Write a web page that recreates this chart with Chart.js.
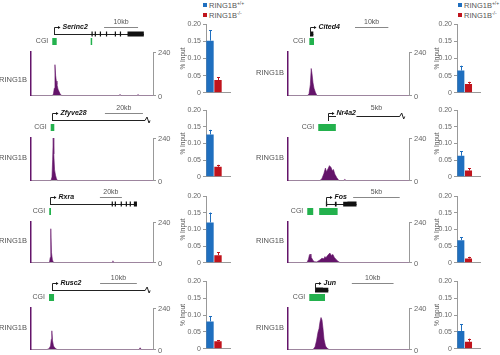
<!DOCTYPE html>
<html><head><meta charset="utf-8">
<script src="https://cdn.jsdelivr.net/npm/chart.js@4.4.1/dist/chart.umd.min.js"></script>
<style>
html,body{margin:0;padding:0;background:#fff}
#fig{position:relative;width:500px;height:355px;overflow:hidden;background:#fff;font-family:"Liberation Sans",Arial,sans-serif}
#fig canvas{position:absolute}
.legend{position:absolute;font-size:7.5px;line-height:9.5px;color:#555;white-space:nowrap}
.legend .sw{display:inline-block;width:4px;height:4px;margin-right:2px;vertical-align:1px}
.legend sup{font-size:5px;vertical-align:3px;line-height:0}
</style></head><body>
<div id="fig">
  <div class="legend" style="left:203px;top:1px">
    <div><span class="sw" style="background:#1f6fbf"></span>RING1B<sup>+/+</sup></div>
    <div><span class="sw" style="background:#c0141d"></span>RING1B<sup>-/-</sup></div>
  </div>
  <div class="legend" style="left:458px;top:1px">
    <div><span class="sw" style="background:#1f6fbf"></span>RING1B<sup>+/+</sup></div>
    <div><span class="sw" style="background:#c0141d"></span>RING1B<sup>-/-</sup></div>
  </div>
</div>
<script>
// ---------------- DATA ----------------
const genes = ['Serinc2','Zfyve28','Rxra','Rusc2','Cited4','Nr4a2','Fos','Jun'];
const seriesLabels = ['RING1B+/+','RING1B-/-'];
const wtInput = [0.152, 0.127, 0.121, 0.081, 0.065, 0.063, 0.068, 0.053];
const wtErr   = [0.030, 0.014, 0.030, 0.016, 0.014, 0.013, 0.009, 0.019];
const koInput = [0.037, 0.030, 0.023, 0.022, 0.026, 0.019, 0.013, 0.021];
const koErr   = [0.009, 0.006, 0.009, 0.004, 0.006, 0.006, 0.005, 0.009];
const inputTicks  = [0, 0.05, 0.1, 0.15, 0.2];
const signalTicks = [0, 240];

const scaleLabels = ['10kb','20kb','20kb','10kb','10kb','5kb','5kb','10kb'];
const regionKb    = [35.9, 64.2, 111, 33.2, 36.3, 13.0, 13.0, 29.0];
const tssKb       = [6.76, 11.05, 17.3, 5.64, 6.6, 4.32, 4.07, 6.47];
const geneEndKb   = [33.2, 60.0, 96.4, 31.06, 7.6, 12.0, 7.36, 9.66];
const geneBroken  = [false, true, false, true, false, true, false, false];
const scaleBarKb  = [[21.5,31.5],[38.9,58.9],[62.7,82.7],[18.8,28.8],[20.1,30.1],[7.0,12.0],[7.0,12.0],[15.3,25.3]];

const serinc2Kb     = [0, 6.3, 6.6, 6.85, 7.05, 7.25, 7.45, 7.65, 7.95, 8.25, 8.55, 9.0, 25.9, 26.2, 26.5, 31.2, 31.5, 31.8, 35.9];
const serinc2Signal = [0, 0, 8, 40, 170, 110, 80, 60, 35, 22, 10, 0, 0, 6, 0, 0, 5, 0, 0];
const serinc2Exons  = [[17.8,17.95],[18.75,18.9],[20.25,20.4],[22.05,22.2],[24.65,24.8],[26.15,26.3],[28.4,33.2]];
const serinc2Cgi    = [[6.26,7.56],[17.56,17.94]];

const zfyve28Kb     = [0, 10.5, 11.05, 11.4, 11.7, 12.0, 12.4, 12.9, 13.4, 13.95, 64.2];
const zfyve28Signal = [0, 0, 20, 120, 240, 150, 60, 30, 10, 0, 0];
const zfyve28Exons  = [];
const zfyve28Cgi    = [[10.37,12.26]];

const rxraKb     = [0, 16.8, 17.5, 18.0, 18.6, 19.5, 20.5, 74.0, 74.5, 75.0, 111];
const rxraSignal = [0, 0, 30, 200, 60, 15, 0, 0, 10, 0, 0];
const rxraExons  = [[73.4,73.8],[76.2,76.6],[81.6,82.0],[86.2,86.6],[89.8,90.2],[93.6,96.4]];
const rxraCgi    = [[16.6,18.2]];

const rusc2Kb     = [0, 4.36, 4.9, 5.31, 5.53, 5.67, 5.86, 6.13, 6.54, 7.08, 29.4, 29.7, 30.0, 33.2];
const rusc2Signal = [0, 0, 5, 20, 60, 108, 50, 20, 8, 0, 0, 10, 0, 0];
const rusc2Exons  = [];
const rusc2Cgi    = [[4.9,6.27]];

const cited4Kb     = [0, 5.86, 6.31, 6.7, 6.97, 7.2, 7.5, 7.8, 8.26, 8.7, 36.3];
const cited4Signal = [0, 0, 10, 60, 149, 120, 70, 40, 15, 0, 0];
const cited4Exons  = [[6.6,7.6]];
const cited4Cgi    = [[6.4,7.8]];

const nr4a2Kb     = [0, 3.43, 3.64, 3.86, 4.02, 4.13, 4.29, 4.45, 4.61, 4.77, 4.88, 5.04, 5.25, 5.47, 5.95, 6.1, 6.25, 13.0];
const nr4a2Signal = [0, 0, 10, 40, 70, 50, 65, 84, 75, 55, 62, 35, 15, 0, 0, 6, 0, 0];
const nr4a2Exons  = [];
const nr4a2Cgi    = [[3.25,5.14]];

const fosKb     = [0, 2.04, 2.2, 2.3, 2.39, 2.47, 2.57, 2.68, 2.84, 3.05, 3.22, 3.43, 3.64, 3.86, 3.97, 4.07, 4.23, 4.39, 4.5, 4.66, 4.82, 4.98, 5.14, 5.36, 5.57, 13.0];
const fosSignal = [0, 0, 20, 45, 50, 30, 25, 12, 5, 3, 8, 15, 25, 22, 35, 28, 40, 50, 56, 42, 48, 30, 20, 8, 0, 0];
const fosExons  = [[4.07,4.21],[5.04,5.22],[5.93,7.36]];
const fosCgi    = [[2.07,2.71],[3.35,5.33]];

const junKb     = [0, 6.0, 6.47, 6.83, 7.19, 7.43, 7.67, 7.91, 8.15, 8.39, 8.63, 8.99, 9.35, 9.83, 29.0];
const junSignal = [0, 0, 15, 50, 100, 120, 160, 185, 170, 120, 60, 20, 8, 0, 0];
const junExons  = [[6.47,9.66]];
const junCgi    = [[5.1,8.87]];

// ---------------- BUILD ----------------
const signalKb = [serinc2Kb, zfyve28Kb, rxraKb, rusc2Kb, cited4Kb, nr4a2Kb, fosKb, junKb];
const signals  = [serinc2Signal, zfyve28Signal, rxraSignal, rusc2Signal, cited4Signal, nr4a2Signal, fosSignal, junSignal];
const exonSets = [serinc2Exons, zfyve28Exons, rxraExons, rusc2Exons, cited4Exons, nr4a2Exons, fosExons, junExons];
const cgiSets  = [serinc2Cgi, zfyve28Cgi, rxraCgi, rusc2Cgi, cited4Cgi, nr4a2Cgi, fosCgi, junCgi];

const FONT = '"Liberation Sans", Arial, sans-serif';
Chart.defaults.font.family = FONT;
const BLUE='#1f6fbf', RED='#c0141d', GREEN='#23b14d', PURPLE='#64146a', GRAY='#555';
const trackTop=[52,138,222,308], trackBase=[96,181,263,350];
const barTop=[24,110,196,281], barBottom=[97,181,267,353];

const fig = document.getElementById('fig');
function addCanvas(left, top, w, h){
  const c=document.createElement('canvas');
  c.width=w; c.height=h;
  c.style.left=left+'px'; c.style.top=top+'px';
  c.style.width=w+'px'; c.style.height=h+'px';
  fig.appendChild(c); return c;
}

function genePlugin(i){
  const L = {kbY:-30, scaleY:-25, nameY:-25, geneY:-18, cgiTop:-14, cgiH:7, cgiLabelY:-10.5, exonH:5};
  if (i===5){ L.geneY=-22; L.scaleY=-22; }
  const labelFrac = (i===0) ? 0.64 : 0.47;
  return {
    id:'gene'+i,
    afterDraw(chart){
      const ctx=chart.ctx, xs=chart.scales.x, a=chart.chartArea, T=a.top;
      const px=v=>xs.getPixelForValue(v);
      ctx.save();
      ctx.textBaseline='middle';
      // scale bar
      const sb=scaleBarKb[i];
      ctx.strokeStyle='#888'; ctx.lineWidth=1;
      ctx.beginPath(); ctx.moveTo(px(sb[0]),T+L.scaleY+0.5); ctx.lineTo(px(sb[1]),T+L.scaleY+0.5); ctx.stroke();
      ctx.fillStyle=GRAY; ctx.font='7px '+FONT; ctx.textAlign='center';
      ctx.fillText(scaleLabels[i], (px(sb[0])+px(sb[1]))/2, T+L.kbY);
      // gene line
      const gy=T+L.geneY+0.5, tx=Math.round(px(tssKb[i]))+0.5, ex=px(geneEndKb[i]);
      ctx.strokeStyle='#222'; ctx.lineWidth=1;
      ctx.beginPath(); ctx.moveTo(tx,gy); ctx.lineTo(ex,gy);
      if (geneBroken[i]){ ctx.lineTo(ex+2,gy-3.5); ctx.lineTo(ex+4,gy+2.5); ctx.lineTo(ex+5,gy); }
      ctx.stroke();
      // exons
      ctx.fillStyle='#111';
      exonSets[i].forEach(e=>{ const x1=px(e[0]), w=Math.max(1.2,px(e[1])-x1); ctx.fillRect(x1,gy-0.5-L.exonH/2,w,L.exonH); });
      // TSS arrow
      const ny=T+L.nameY+0.5;
      ctx.beginPath(); ctx.moveTo(tx,T+L.nameY+8); ctx.lineTo(tx,ny); ctx.lineTo(tx+4,ny); ctx.stroke();
      ctx.beginPath(); ctx.moveTo(tx+6,ny); ctx.lineTo(tx+3.5,ny-1.6); ctx.lineTo(tx+3.5,ny+1.6); ctx.closePath(); ctx.fill();
      // gene name
      ctx.font='italic bold 7px '+FONT; ctx.textAlign='left';
      const nw=ctx.measureText(genes[i]).width;
      ctx.fillStyle='#fff'; ctx.fillRect(tx+7.5,ny-4,nw+1,8);
      ctx.fillStyle='#111'; ctx.fillText(genes[i], tx+8, ny);
      // CGI
      ctx.fillStyle=GREEN;
      cgiSets[i].forEach(c=>{ const x1=px(c[0]), w=Math.max(1.5,px(c[1])-x1); ctx.fillRect(x1,T+L.cgiTop,w,L.cgiH); });
      ctx.fillStyle=GRAY; ctx.font='7px '+FONT; ctx.textAlign='right';
      ctx.fillText('CGI', px(cgiSets[i][0][0])-4, T+L.cgiLabelY);
      // track label
      ctx.font='7.5px '+FONT;
      ctx.fillText('RING1B', a.left-4, a.top+(a.bottom-a.top)*labelFrac);
      ctx.restore();
    }
  };
}

const errorBars = {
  id:'errorBars',
  afterDatasetsDraw(chart){
    const ctx=chart.ctx, ys=chart.scales.y;
    chart.data.datasets.forEach((ds,d)=>{
      const meta=chart.getDatasetMeta(d);
      meta.data.forEach((el,j)=>{
        const v=ds.data[j], e=ds.err[j];
        if (v==null || e==null) return;
        const x=Math.round(el.x)+0.5, yT=ys.getPixelForValue(v+e);
        ctx.save(); ctx.strokeStyle=ds.backgroundColor; ctx.lineWidth=1;
        ctx.beginPath(); ctx.moveTo(x,el.y); ctx.lineTo(x,yT);
        ctx.moveTo(x-1.5,Math.round(yT)+0.5); ctx.lineTo(x+1.5,Math.round(yT)+0.5); ctx.stroke();
        ctx.restore();
      });
    });
  }
};

for (let i=0;i<8;i++){
  const col=i<4?0:1, row=i%4;
  // ---- track chart ----
  const x0=col?250:0, aL=col?288:31, aR=col?409:153, rightW=22;
  const top=trackTop[row]-36;
  const W=aR+rightW-x0, H=trackBase[row]-top+6;
  const cv=addCanvas(x0,top,W,H);
  new Chart(cv,{
    type:'line',
    data:{datasets:[{label:'RING1B', yAxisID:'y',
      data:signalKb[i].map((k,j)=>({x:k,y:signals[i][j]})),
      fill:'origin', backgroundColor:PURPLE, borderColor:PURPLE, borderWidth:0.6, pointRadius:0, tension:0}]},
    options:{
      responsive:false, animation:false, devicePixelRatio:1, events:[],
      layout:{padding:{top:36,bottom:6,left:0,right:0}},
      plugins:{legend:{display:false},tooltip:{enabled:false}},
      scales:{
        x:{type:'linear',min:0,max:regionKb[i],ticks:{display:false},grid:{display:false},
           border:{display:true,color:'#b5b5b5',dash:[1,2],width:1},afterFit(s){s.height=0;}},
        yL:{type:'linear',position:'left',min:0,max:240,ticks:{display:false},grid:{display:false},
           border:{color:PURPLE,width:1.5},afterFit(s){s.width=aL-x0;}},
        y:{type:'linear',position:'right',min:0,max:240,
           afterBuildTicks(s){s.ticks=signalTicks.map(v=>({value:v}));},
           ticks:{color:'#666',font:{size:7.5},padding:2,labelOffset:1},
           grid:{drawOnChartArea:false,tickLength:3,color:'#999'},border:{color:'#999'},
           afterFit(s){s.width=rightW;}}
      }
    },
    plugins:[genePlugin(i)]
  });
  // ---- bar chart ----
  const cL=col?433:179, axisX=col?457:206, areaR=col?480:230;
  const bTop=barTop[row]-6, bW=areaR-cL+4, bH=barBottom[row]-bTop+2;
  const bc=addCanvas(cL,bTop,bW,bH);
  new Chart(bc,{
    type:'bar',
    data:{labels:[seriesLabels[0],seriesLabels[1],''],datasets:[
      {label:seriesLabels[0],data:[wtInput[i],null,null],err:[wtErr[i],null,null],backgroundColor:BLUE},
      {label:seriesLabels[1],data:[null,koInput[i],null],err:[null,koErr[i],null],backgroundColor:RED}
    ]},
    options:{
      responsive:false, animation:false, devicePixelRatio:1, events:[],
      datasets:{bar:{grouped:false,barPercentage:0.92,categoryPercentage:1}},
      layout:{padding:{top:6,right:4,bottom:2,left:0}},
      plugins:{legend:{display:false},tooltip:{enabled:false}},
      scales:{
        x:{ticks:{display:false},grid:{display:false},border:{color:'#999'},afterFit(s){s.height=0;}},
        y:{min:0,max:0.2,afterBuildTicks(s){s.ticks=inputTicks.map(v=>({value:v}));},
           ticks:{color:'#666',font:{size:7},padding:2},
           grid:{drawOnChartArea:false,tickLength:3,color:'#999'},border:{color:'#999'},
           title:{display:true,text:'% Input',color:GRAY,font:{size:6.5},padding:0},
           afterFit(s){s.width=axisX-cL;}}
      }
    },
    plugins:[errorBars]
  });
}
</script>
</body></html>
